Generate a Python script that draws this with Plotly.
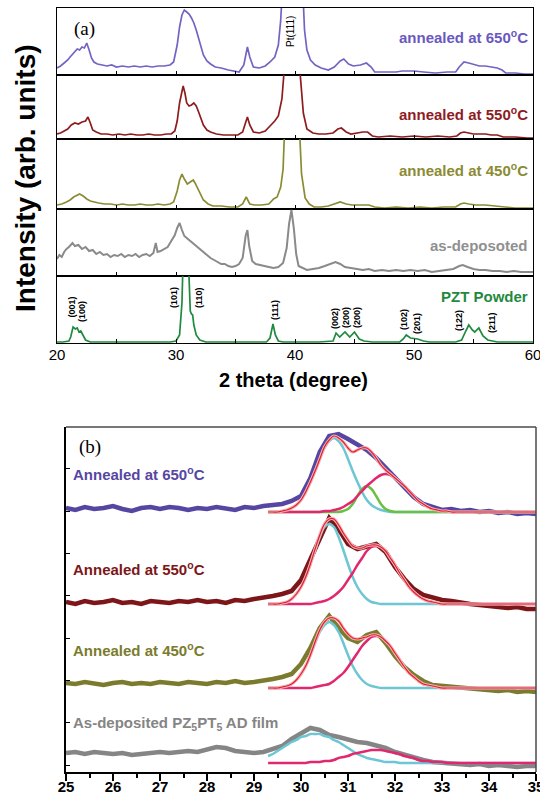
import plotly.graph_objects as go

W, H = 540, 799
SANS = "Liberation Sans, Arial, sans-serif"
SERIF = "Liberation Serif, Times New Roman, serif"

# ---------------- Panel (a): XRD patterns, (2theta, intensity) pairs ----------------
xrd_650 = [(20.0, 7), (20.3, 9), (20.6, 12), (20.9, 15), (21.1, 18), (21.4, 22), (21.7, 26), (21.9, 25),
           (22.1, 28), (22.3, 27), (22.5, 32), (22.7, 25), (22.9, 17), (23.1, 13), (23.4, 11), (23.8, 10),
           (24.2, 9), (24.6, 10), (25.0, 8), (25.5, 9), (26.0, 8), (26.5, 9), (27.0, 8), (27.5, 9), (28.0, 8),
           (28.5, 9), (29.0, 9), (29.5, 10), (29.8, 13), (30.1, 30), (30.3, 48), (30.5, 60), (30.7, 65),
           (30.9, 63), (31.1, 61), (31.3, 57), (31.5, 52), (31.7, 45), (31.9, 36), (32.1, 28), (32.3, 20),
           (32.6, 14), (32.9, 11), (33.3, 8), (33.8, 7), (34.4, 5), (34.9, 4), (35.3, 3), (35.7, 10),
           (36.0, 28), (36.2, 18), (36.5, 8), (37.0, 7), (37.5, 9), (37.9, 13), (38.3, 18), (38.6, 30),
           (38.8, 55), (39.0, 100), (39.4, 220), (39.8, 300), (40.2, 220), (40.6, 100), (40.8, 45),
           (41.0, 25), (41.3, 15), (41.7, 10), (42.2, 7), (42.8, 5), (43.3, 8), (43.8, 14), (44.1, 16),
           (44.5, 11), (44.9, 9), (45.5, 10), (46.0, 12), (46.4, 8), (46.7, 3), (47.5, 3), (48.5, 3),
           (49.0, 4), (50.0, 4), (50.8, 3), (51.8, 2), (52.8, 3), (53.5, 3), (53.8, 8), (54.2, 13),
           (54.6, 12), (55.0, 11), (55.5, 9), (56.0, 9), (56.5, 8), (57.0, 7), (57.4, 5), (57.7, 2),
           (58.5, 2), (59.3, 1), (60.0, 1)]

xrd_550 = [(20.0, 5), (20.3, 6), (20.6, 8), (20.9, 10), (21.2, 14), (21.5, 16), (21.8, 15), (22.1, 17),
           (22.4, 18), (22.6, 22), (22.8, 16), (23.0, 9), (23.3, 7), (23.7, 5), (24.2, 5), (24.7, 4),
           (25.2, 5), (25.7, 4), (26.2, 5), (26.7, 4), (27.2, 4), (27.7, 5), (28.2, 4), (28.7, 4),
           (29.2, 5), (29.6, 5), (29.9, 8), (30.1, 18), (30.3, 36), (30.5, 50), (30.6, 53), (30.75, 46),
           (30.9, 36), (31.1, 33), (31.3, 34), (31.5, 36), (31.7, 33), (31.9, 27), (32.1, 20), (32.3, 14),
           (32.6, 9), (32.9, 7), (33.4, 5), (34.0, 4), (34.6, 4), (35.2, 4), (35.6, 7), (35.85, 18),
           (36.0, 22), (36.2, 14), (36.5, 7), (37.0, 6), (37.5, 8), (37.9, 13), (38.3, 18), (38.6, 23),
           (38.9, 40), (39.1, 70), (39.5, 200), (39.8, 300), (40.1, 200), (40.4, 70), (40.7, 26),
           (41.0, 10), (41.5, 6), (42.0, 5), (42.6, 5), (43.2, 6), (43.6, 10), (43.9, 11), (44.3, 7),
           (44.7, 5), (45.2, 6), (45.7, 7), (46.1, 7), (46.5, 3), (47.0, 2), (48.0, 3), (49.0, 2),
           (50.0, 3), (51.0, 2), (52.0, 3), (53.0, 2), (53.6, 3), (53.9, 6), (54.2, 7), (54.6, 6),
           (55.0, 5), (55.5, 5), (56.0, 5), (56.5, 4), (57.0, 4), (57.5, 2), (58.5, 2), (59.5, 1), (60.0, 1)]

xrd_450 = [(20.0, 4), (20.4, 5), (20.8, 7), (21.1, 9), (21.4, 12), (21.7, 14), (21.9, 15), (22.2, 13),
           (22.5, 10), (22.8, 8), (23.1, 7), (23.5, 6), (24.0, 5), (24.5, 5), (25.0, 4), (25.5, 5),
           (26.0, 4), (26.5, 4), (27.0, 5), (27.5, 4), (28.0, 4), (28.5, 5), (29.0, 4), (29.5, 5),
           (29.8, 7), (30.1, 18), (30.3, 29), (30.5, 35), (30.7, 30), (30.95, 25), (31.2, 27), (31.45, 29),
           (31.6, 26), (31.8, 21), (32.0, 15), (32.3, 9), (32.7, 5), (33.1, 3), (33.8, 3), (34.5, 2),
           (35.2, 2), (35.6, 5), (35.9, 12), (36.2, 5), (36.6, 4), (37.2, 4), (37.8, 5), (38.2, 10),
           (38.5, 12), (38.8, 22), (39.0, 40), (39.3, 100), (39.8, 300), (40.3, 100), (40.55, 35),
           (40.85, 11), (41.2, 5), (41.6, 2), (42.2, 2), (42.8, 3), (43.4, 5), (43.8, 7), (44.3, 5),
           (44.8, 4), (45.5, 4), (46.2, 4), (46.7, 2), (47.5, 1), (48.5, 2), (49.5, 1), (50.5, 2),
           (51.5, 1), (52.5, 2), (53.5, 2), (53.9, 5), (54.2, 6), (54.6, 5), (55.2, 4), (56.0, 4),
           (56.8, 3), (57.5, 2), (58.5, 1), (59.5, 1), (60.0, 1)]

xrd_asdep = [(20.0, 17), (20.2, 21), (20.4, 19), (20.6, 24), (20.8, 27), (21.0, 29), (21.3, 33), (21.5, 30),
             (21.8, 31), (22.1, 27), (22.4, 29), (22.7, 25), (23.0, 26), (23.3, 22), (23.6, 24), (23.9, 21),
             (24.2, 22), (24.5, 19), (24.8, 21), (25.1, 20), (25.4, 22), (25.7, 19), (26.0, 21), (26.3, 20),
             (26.6, 22), (26.9, 19), (27.2, 21), (27.5, 22), (27.8, 20), (28.1, 23), (28.3, 33), (28.45, 24),
             (28.7, 25), (29.0, 27), (29.3, 29), (29.6, 35), (29.9, 41), (30.1, 48), (30.3, 53), (30.5, 46),
             (30.7, 40), (30.9, 38), (31.1, 36), (31.3, 34), (31.5, 32), (31.7, 30), (32.0, 27), (32.3, 24),
             (32.6, 21), (32.9, 18), (33.2, 16), (33.5, 14), (33.8, 12), (34.1, 12), (34.4, 10), (34.7, 9),
             (35.0, 10), (35.3, 12), (35.6, 18), (35.85, 40), (36.0, 46), (36.15, 30), (36.4, 15), (36.7, 12),
             (37.0, 11), (37.4, 10), (37.8, 9), (38.2, 8), (38.6, 9), (39.0, 13), (39.3, 28), (39.5, 52),
             (39.7, 66), (39.9, 48), (40.1, 22), (40.3, 10), (40.6, 8), (41.0, 6), (41.5, 7), (42.0, 8),
             (42.5, 10), (43.0, 12), (43.4, 14), (43.8, 12), (44.2, 9), (44.7, 8), (45.2, 7), (45.7, 6),
             (46.2, 7), (46.7, 5), (47.3, 6), (47.9, 5), (48.5, 6), (49.1, 5), (49.7, 6), (50.3, 5),
             (50.9, 6), (51.5, 4), (52.1, 5), (52.7, 6), (53.3, 7), (53.8, 10), (54.1, 11), (54.5, 9),
             (55.0, 7), (55.5, 6), (56.0, 6), (56.6, 5), (57.2, 5), (57.8, 4), (58.4, 5), (59.0, 4),
             (59.6, 4), (60.0, 4)]

xrd_powder = [(20.0, 1), (20.5, 1), (21.0, 2), (21.15, 6), (21.35, 16), (21.55, 14), (21.7, 15), (21.85, 11),
              (22.0, 12), (22.15, 8), (22.4, 3), (22.8, 1), (24.0, 1), (26.0, 1), (28.0, 1), (29.5, 1),
              (30.0, 2), (30.3, 8), (30.5, 40), (30.6, 80), (30.85, 200), (31.05, 80), (31.2, 32), (31.3, 29),
              (31.4, 28), (31.5, 18), (31.7, 8), (32.0, 3), (32.5, 1), (34.0, 1), (36.0, 1), (37.6, 1),
              (37.9, 5), (38.15, 19), (38.35, 8), (38.6, 2), (39.0, 1), (42.0, 1), (43.2, 2), (43.45, 10),
              (43.75, 6), (44.2, 11), (44.6, 6), (45.0, 11), (45.4, 4), (45.8, 2), (46.5, 1), (48.8, 1),
              (49.1, 4), (49.35, 8), (49.7, 5), (50.3, 4), (50.8, 2), (51.3, 1), (53.5, 1), (54.0, 3),
              (54.35, 12), (54.6, 18), (54.9, 13), (55.1, 11), (55.45, 15), (55.8, 7), (56.2, 3), (57.0, 1),
              (60.0, 1)]

a_labels = ["annealed at 650<sup>o</sup>C", "annealed at 550<sup>o</sup>C", "annealed at 450<sup>o</sup>C",
            "as-deposoted", "PZT Powder"]
powder_hkl = ["(001)", "(100)", "(101)", "(110)", "(111)", "(002)", "(200)", "(200)",
              "(102)", "(201)", "(122)", "(211)"]
powder_hkl_2theta = [21.18, 22.1, 29.83, 31.93, 38.32, 43.36, 44.29, 45.21, 49.16, 50.25, 53.78, 56.55]
powder_hkl_height = [35.5, 32, 46, 46, 33, 25, 25, 25, 23, 20, 23, 21]

# ---------------- Panel (b): zoomed 25-35 deg with peak fits ----------------
b_2theta = [25.0, 25.2, 25.4, 25.6, 25.8, 26.0, 26.2, 26.4, 26.6, 26.8,
            27.0, 27.2, 27.4, 27.6, 27.8, 28.0, 28.2, 28.4, 28.6, 28.8,
            29.0, 29.2, 29.4, 29.6, 29.8, 30.0, 30.2, 30.4, 30.6, 30.8,
            31.0, 31.2, 31.4, 31.6, 31.8, 32.0, 32.2, 32.4, 32.6, 32.8,
            33.0, 33.2, 33.4, 33.6, 33.8, 34.0, 34.2, 34.4, 34.6, 34.8, 35.0]
b_650 = [264, 262, 265, 263, 264, 266, 263, 261, 264, 265,
         263, 265, 264, 262, 264, 263, 265, 264, 262, 265,
         264, 266, 267, 268, 271, 276, 294, 320, 336, 338,
         333, 327, 322, 314, 304, 294, 284, 275, 268, 265,
         262, 263, 261, 262, 260, 261, 259, 260, 258, 259, 258]
b_550 = [170, 168, 171, 169, 170, 172, 169, 170, 168, 171,
         170, 169, 171, 170, 172, 170, 171, 169, 172, 171,
         173, 174, 176, 178, 181, 192, 213, 235, 254, 243,
         228, 223, 225, 228, 220, 205, 193, 183, 177, 174,
         172, 171, 169, 168, 167, 166, 165, 164, 165, 163, 163]
b_450 = [89, 88, 90, 89, 87, 89, 90, 88, 89, 88,
         90, 89, 88, 90, 89, 88, 90, 89, 91, 89,
         90, 91, 93, 95, 98, 108, 124, 144, 156, 144,
         134, 130, 137, 140, 129, 116, 105, 97, 91, 87,
         86, 85, 84, 83, 83, 82, 81, 82, 80, 81, 80]
b_asdep = [19, 20, 18, 20, 19, 18, 19, 17, 18, 19,
           20, 19, 20, 21, 20, 22, 25, 24, 21, 20,
           19, 20, 23, 26, 33, 39, 44, 42, 37, 35,
           32, 30, 29, 27, 24, 20, 17, 14, 12, 10,
           9, 9, 8, 7, 8, 6, 7, 6, 5, 6, 6]

fit_2theta = [29.3, 29.4, 29.5, 29.6, 29.7, 29.8, 29.9, 30.0, 30.1, 30.2,
              30.3, 30.4, 30.5, 30.6, 30.7, 30.8, 30.9, 31.0, 31.1, 31.2,
              31.3, 31.4, 31.5, 31.6, 31.7, 31.8, 31.9, 32.0, 32.1, 32.2,
              32.3, 32.4, 32.5, 32.6, 32.7, 32.8, 32.9, 33.0, 33.1, 33.2,
              33.3, 33.4, 33.5, 33.6, 35.0]
fit_base = {"650": 260, "550": 168, "450": 84, "asdep": 9}
fit_650_p1 = [0, 0, 0, 1, 2, 4, 7, 12, 20, 30,
              41, 53, 64, 71, 74, 71, 64, 53, 41, 30,
              20, 12, 7, 4, 2, 1, 0, 0, 0, 0,
              0, 0, 0, 0, 0, 0, 0, 0, 0, 0, 0, 0, 0, 0, 0]
fit_650_p2 = [0, 0, 0, 0, 0, 0, 0, 0, 0, 0,
              0, 0, 0, 0, 0, 0, 1, 3, 8, 16,
              23, 26, 23, 16, 8, 3, 1, 0, 0, 0,
              0, 0, 0, 0, 0, 0, 0, 0, 0, 0, 0, 0, 0, 0, 0]
fit_650_p3 = [0, 0, 0, 0, 0, 0, 0, 0, 0, 0,
              0, 0, 1, 1, 2, 3, 5, 8, 11, 16,
              21, 26, 30, 34, 37, 38, 37, 34, 30, 26,
              21, 16, 11, 8, 5, 3, 2, 1, 1, 0, 0, 0, 0, 0, 0]
fit_550_p1 = [0, 0, 0, 1, 2, 5, 10, 17, 27, 40,
              54, 67, 77, 80, 77, 67, 54, 40, 27, 17,
              10, 5, 2, 1, 0, 0, 0, 0, 0, 0,
              0, 0, 0, 0, 0, 0, 0, 0, 0, 0, 0, 0, 0, 0, 0]
fit_550_p3 = [0, 0, 0, 0, 0, 0, 0, 0, 0, 0,
              1, 2, 3, 5, 8, 12, 17, 24, 31, 39,
              46, 53, 57, 58, 57, 53, 46, 39, 31, 24,
              17, 12, 8, 5, 3, 2, 1, 0, 0, 0, 0, 0, 0, 0, 0]
fit_450_p1 = [0, 0, 0, 1, 2, 4, 8, 14, 22, 33,
              45, 56, 63, 66, 63, 56, 45, 33, 22, 14,
              8, 4, 2, 1, 0, 0, 0, 0, 0, 0,
              0, 0, 0, 0, 0, 0, 0, 0, 0, 0, 0, 0, 0, 0, 0]
fit_450_p3 = [0, 0, 0, 0, 0, 0, 0, 0, 0, 0,
              1, 2, 3, 4, 7, 11, 15, 21, 28, 35,
              42, 47, 51, 52, 51, 47, 42, 35, 28, 21,
              15, 11, 7, 4, 3, 2, 1, 0, 0, 0, 0, 0, 0, 0, 0]
fit_asdep_p1 = [7, 9, 12, 15, 18, 21, 23, 26, 27, 29,
                29, 29, 27, 26, 23, 21, 18, 15, 12, 9,
                7, 5, 4, 3, 2, 1, 1, 1, 0, 0,
                0, 0, 0, 0, 0, 0, 0, 0, 0, 0, 0, 0, 0, 0, 0]
fit_asdep_p3 = [0, 0, 0, 0, 0, 0, 0, 0, 0, 1,
                1, 1, 2, 2, 3, 5, 6, 7, 9, 10,
                11, 12, 13, 13, 13, 12, 11, 10, 9, 7,
                6, 5, 3, 2, 2, 1, 1, 1, 0, 0, 0, 0, 0, 0, 0]

b_labels = ["Annealed at 650<sup>o</sup>C", "Annealed at 550<sup>o</sup>C", "Annealed at 450<sup>o</sup>C",
            "As-deposited PZ<sub>5</sub>PT<sub>5</sub> AD film"]

# ---------------- styles ----------------
A_COLORS = ["#7563c4", "#8e1c1f", "#8b8b34", "#8a8a8a", "#1f8a3e"]
A_LABEL_COLORS = ["#6a58c0", "#8e1c1f", "#8b8b34", "#909090", "#1f8a3e"]
B_COLORS = ["#5646a2", "#7d1619", "#7b7b2e", "#858585"]
CYAN, MAGENTA, GREEN, RED = "#6cc6d3", "#e2276f", "#6cbf45", "#e3202a"

A_X = [57 / W, 533 / W]
A_ROWS = [(8, 75), (75, 139), (139, 209), (209, 276), (276, 343)]   # pixel top/bottom of each strip
B_X = [66 / W, 536 / W]
B_Y = [(H - 772) / H, (H - 427) / H]

fig = go.Figure()
a_data = [xrd_650, xrd_550, xrd_450, xrd_asdep, xrd_powder]
layout = {}
for i, (top, bot) in enumerate(A_ROWS):
    n = i + 1
    sx = "" if n == 1 else str(n)
    xs, ys = "x" + sx, "y" + sx
    xv, yv = zip(*a_data[i])
    fig.add_trace(go.Scatter(x=list(xv), y=list(yv), mode="lines", xaxis=xs, yaxis=ys,
                             line=dict(color=A_COLORS[i], width=2.0 if n == 4 else 1.7),
                             showlegend=False, hoverinfo="skip"))
    bottom = (n == 5)
    xa = dict(domain=A_X, range=[20, 60], anchor=ys, showline=True, mirror=True, linecolor="black",
              linewidth=1, showgrid=False, zeroline=False, ticks="inside", ticklen=4, tickcolor="black",
              tick0=20, dtick=10 if bottom else 5, showticklabels=bottom, automargin=False,
              ticklabelstandoff=-2, ticklabeloverflow="allow",
              tickfont=dict(family=SANS, size=15, color="black"))
    if bottom:
        xa["minor"] = dict(ticks="inside", dtick=5, ticklen=4, tickcolor="black")
    layout["xaxis" + sx] = xa
    layout["yaxis" + sx] = dict(domain=[1 - bot / H, 1 - top / H], range=[0, bot - top], anchor=xs,
                                showline=True, mirror=True, linecolor="black", linewidth=1,
                                showgrid=False, zeroline=False, ticks="", showticklabels=False,
                                automargin=False)

# panel b traces
b_data = [b_650, b_550, b_450, b_asdep]
for i, yv in enumerate(b_data):
    fig.add_trace(go.Scatter(x=b_2theta, y=yv, mode="lines", xaxis="x6", yaxis="y6",
                             line=dict(color=B_COLORS[i], width=4.5), showlegend=False, hoverinfo="skip"))

def add_fit(comp, base, color, width):
    fig.add_trace(go.Scatter(x=fit_2theta, y=[base + v for v in comp], mode="lines", xaxis="x6", yaxis="y6",
                             line=dict(color=color, width=width, shape="spline"),
                             showlegend=False, hoverinfo="skip"))

fit_sets = [
    ("650", [(fit_650_p1, CYAN), (fit_650_p2, GREEN), (fit_650_p3, MAGENTA)], True),
    ("550", [(fit_550_p1, CYAN), (fit_550_p3, MAGENTA)], True),
    ("450", [(fit_450_p1, CYAN), (fit_450_p3, MAGENTA)], True),
    ("asdep", [(fit_asdep_p1, CYAN), (fit_asdep_p3, MAGENTA)], False),
]
for key, comps, with_sum in fit_sets:
    base = fit_base[key]
    for comp, col in comps:
        add_fit(comp, base, col, 2.5)
    if with_sum:
        total = [sum(c[0][k] for c in comps) for k in range(len(fit_2theta))]
        add_fit(total, base, "#f5b3bb", 3.2)
        add_fit(total, base, RED, 1.2)

layout["xaxis6"] = dict(domain=B_X, range=[25, 35], anchor="y6", showline=True, linecolor="black",
                        linewidth=1.5, showgrid=False, zeroline=False, ticks="outside", ticklen=7,
                        tickwidth=1.5, tickcolor="black", dtick=1, tick0=25, automargin=False,
                        ticklabelstandoff=-7, ticklabeloverflow="allow",
                        tickfont=dict(family=SANS, size=15, color="black", weight="bold"),
                        minor=dict(ticks="outside", dtick=0.5, ticklen=4, tickwidth=1.5, tickcolor="black"))
layout["yaxis6"] = dict(domain=B_Y, range=[0, 345], anchor="x6", showline=True, linecolor="black",
                        linewidth=1.5, showgrid=False, zeroline=False, ticks="inside", ticklen=4,
                        tickwidth=1.2, tickcolor="black", tick0=7, dtick=42.3, showticklabels=False,
                        automargin=False)

ann = []
# panel (a) labels
a_label_py = [36, 113, 170, 245, 296]
for txt, py, col in zip(a_labels, a_label_py, A_LABEL_COLORS):
    ann.append(dict(text=txt, x=530 / W, y=1 - py / H, xref="paper", yref="paper", xanchor="right",
                    yanchor="middle", showarrow=False,
                    font=dict(family=SANS, size=15, color=col, weight="bold")))
ann.append(dict(text="(a)", x=84 / W, y=1 - 29 / H, xref="paper", yref="paper", xanchor="center",
                yanchor="middle", showarrow=False, font=dict(family=SERIF, size=19, color="black")))
ann.append(dict(text="Pt(111)", x=291 / W, y=1 - 32 / H, xref="paper", yref="paper", xanchor="center",
                yanchor="middle", textangle=-90, showarrow=False,
                font=dict(family=SANS, size=10, color="black")))
for t, xv, yv in zip(powder_hkl, powder_hkl_2theta, powder_hkl_height):
    ann.append(dict(text=t, x=xv, y=yv, xref="x5", yref="y5", xanchor="center", yanchor="middle",
                    textangle=-90, showarrow=False,
                    font=dict(family=SANS, size=9, color="black", weight="bold")))
ann.append(dict(text="Intensity (arb. units)", x=25 / W, y=1 - 178 / H, xref="paper", yref="paper",
                xanchor="center", yanchor="middle", textangle=-90, showarrow=False,
                font=dict(family=SANS, size=28, color="black", weight="bold")))
ann.append(dict(text="2 theta (degree)", x=293 / W, y=1 - 380 / H, xref="paper", yref="paper",
                xanchor="center", yanchor="middle", showarrow=False,
                font=dict(family=SANS, size=20, color="black", weight="bold")))
# panel (b) labels
b_label_py = [473, 568, 649, 723]
for txt, py, col in zip(b_labels, b_label_py, B_COLORS):
    ann.append(dict(text=txt, x=71 / W, y=1 - py / H, xref="paper", yref="paper", xanchor="left",
                    yanchor="middle", showarrow=False,
                    font=dict(family=SANS, size=15, color=col, weight="bold")))
ann.append(dict(text="(b)", x=90 / W, y=1 - 447 / H, xref="paper", yref="paper", xanchor="center",
                yanchor="middle", showarrow=False, font=dict(family=SERIF, size=19, color="black")))

shapes = [
    dict(type="line", xref="paper", yref="paper", x0=B_X[0], x1=B_X[1], y0=B_Y[1], y1=B_Y[1],
         line=dict(color="#4a4a4a", width=1.5)),
    dict(type="line", xref="paper", yref="paper", x0=B_X[1], x1=B_X[1], y0=B_Y[0], y1=B_Y[1],
         line=dict(color="#4a4a4a", width=1.5)),
]

fig.update_layout(width=W, height=H, autosize=False,
                  margin=dict(l=0, r=0, t=0, b=0, pad=0, autoexpand=False),
                  paper_bgcolor="white", plot_bgcolor="white", showlegend=False,
                  annotations=ann, shapes=shapes, **layout)

# remove the default page margin so the 540x799 figure fills the window exactly
page_fix = ("document.documentElement.style.margin='0';document.body.style.margin='0';"
            "document.body.style.overflow='hidden';")
fig.write_html("out.html", post_script=page_fix,
               config={"displayModeBar": False, "responsive": False})
